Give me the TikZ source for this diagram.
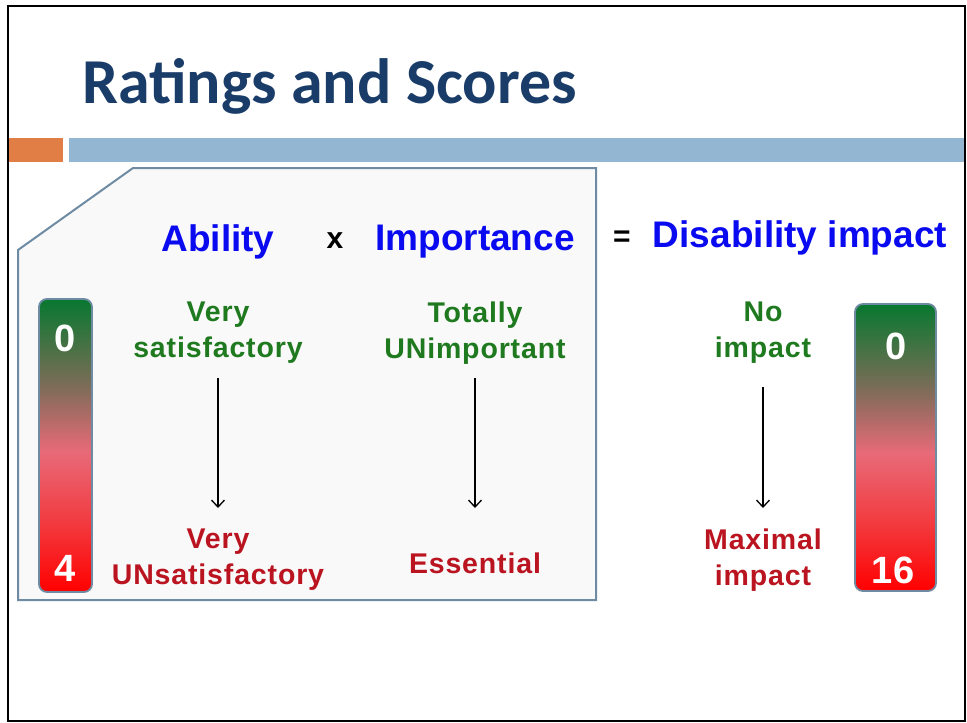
\documentclass[tikz,border=0pt]{standalone}
\usepackage{fontspec}
\setmainfont{Liberation Sans}
\newfontfamily\titlefont{Carlito}
\newfontfamily\bodyfont[LetterSpace=3]{Liberation Sans}
\usetikzlibrary{arrows.meta}
\definecolor{frameblack}{HTML}{000000}
\definecolor{barorange}{HTML}{E07E45}
\definecolor{barblue}{HTML}{93B6D2}
\definecolor{titleblue}{HTML}{1A3C68}
\definecolor{panelfill}{HTML}{F9F9F9}
\definecolor{panelline}{HTML}{6E8BA3}
\definecolor{wordblue}{HTML}{0A0AF0}
\definecolor{goodgreen}{HTML}{1F7A1F}
\definecolor{badred}{HTML}{BA1420}
\definecolor{gA}{HTML}{087830}
\definecolor{gB}{HTML}{7E6C58}
\definecolor{gC}{HTML}{E86A78}
\definecolor{gD}{HTML}{F23B40}
\definecolor{gE}{HTML}{FF0000}
\pgfdeclareverticalshading{bargrad}{100bp}{color(0bp)=(gE); color(25bp)=(gE); color(37bp)=(gD); color(49bp)=(gC); color(60bp)=(gB); color(75bp)=(gA); color(100bp)=(gA)}
\tikzset{
  head/.style={font=\fontsize{37}{44}\selectfont\bfseries, text=wordblue, inner sep=0pt},
  opsym/.style={font=\fontsize{30}{36}\selectfont\bfseries, text=black, inner sep=0pt},
  goodtxt/.style={font=\bodyfont\fontsize{28.5}{36}\selectfont\bfseries, text=goodgreen, align=center, inner sep=0pt},
  badtxt/.style={font=\bodyfont\fontsize{28.5}{36}\selectfont\bfseries, text=badred, align=center, inner sep=0pt},
  numtxt/.style={font=\fontsize{38}{44}\selectfont\bfseries, text=white, inner sep=0pt},
  flow/.style={line width=1.3pt, -{Straight Barb[length=7pt,width=13pt,line width=1.3pt]}},
  scalebar/.style={draw=panelline, line width=1.8pt, rounded corners=8pt, shading=bargrad},
}
\begin{document}
\begin{tikzpicture}[x=1pt,y=-1pt]
\useasboundingbox (0,0) rectangle (967,723);
% outer frame
\draw[frameblack, line width=2.6pt] (8,6) rectangle (965,721);
% header bars
\fill[barorange] (9,138) rectangle (63,162);
\fill[barblue] (69,138) rectangle (964,162);
% title
\node[anchor=base west, inner sep=0pt, font=\titlefont\fontsize{64}{70}\selectfont\bfseries, text=titleblue] (title) at (82,103) {Ratings and Scores};
% panel
\draw[fill=panelfill, draw=panelline, line width=2pt] (18,250) -- (133,168) -- (596,168) -- (596,600) -- (18,600) -- cycle;
% headings
\node[head] (ability) at (218,242) {Ability};
\node[opsym] (times) at (335,241) {x};
\node[head] (importance) at (475,242) {Importance};
\node[opsym] (equals) at (622,239) {=};
\node[head] (disab) at (800,238) {Disability impact};
% left scale bar
\shade[scalebar] (39,299) rectangle (92,592);
\node[numtxt] (lzero) at (65,338) {0};
\node[numtxt] (lfour) at (65,568) {4};
% right scale bar
\shade[scalebar] (855,304) rectangle (936,591);
\node[numtxt] (rzero) at (896,346) {0};
\node[numtxt] (rsixteen) at (893,570) {16};
% column texts
\node[goodtxt] (vsat) at (218,333) {Very\\satisfactory};
\node[badtxt] (vunsat) at (218,560) {Very\\UNsatisfactory};
\node[goodtxt] (unimp) at (475,333) {Totally\\UNimportant};
\node[badtxt] (essential) at (475,563) {Essential};
\node[goodtxt] (noimp) at (763,333) {No\\impact};
\node[badtxt] (maximp) at (763,560) {Maximal\\impact};
% arrows
\coordinate (a1s) at (218,378); \coordinate (a1e) at (218,508);
\coordinate (a2s) at (475,378); \coordinate (a2e) at (475,508);
\coordinate (a3s) at (763,387); \coordinate (a3e) at (763,508);
\draw[flow] (a1s) -- (a1e);
\draw[flow] (a2s) -- (a2e);
\draw[flow] (a3s) -- (a3e);
\end{tikzpicture}
\end{document}
